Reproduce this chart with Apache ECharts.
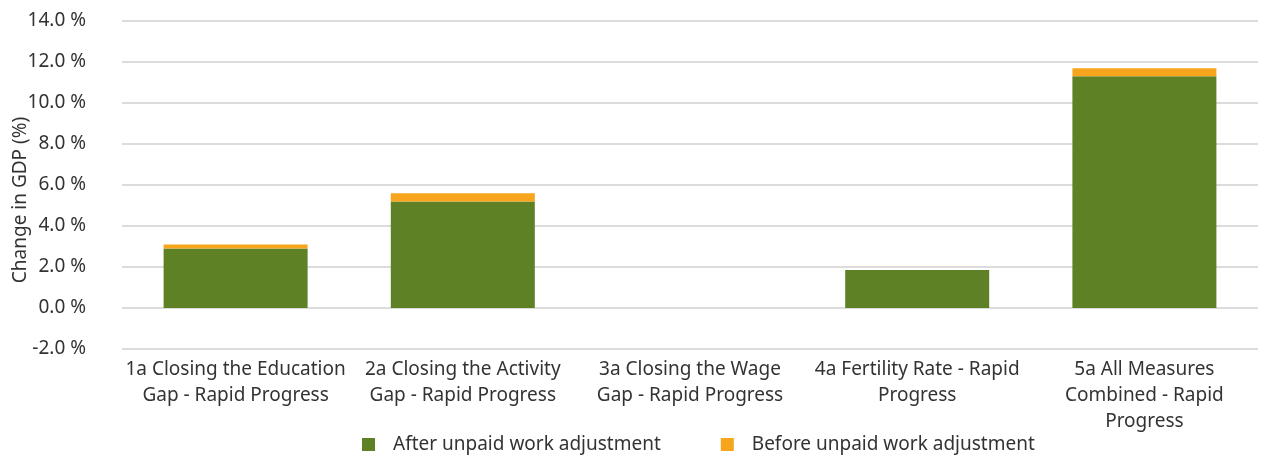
<!DOCTYPE html>
<html>
<head>
<meta charset="utf-8">
<script src="https://cdn.jsdelivr.net/npm/echarts@6/dist/echarts.min.js"></script>
<style>
  html, body { margin: 0; padding: 0; background: #fff; }
  #chart { width: 1270px; height: 455px; }
</style>
</head>
<body>
<div id="chart"></div>
<script>
// categories and values (% change in GDP)
const categories = [
  '1a Closing the Education\nGap - Rapid Progress',
  '2a Closing the Activity\nGap - Rapid Progress',
  '3a Closing the Wage\nGap - Rapid Progress',
  '4a Fertility Rate - Rapid\nProgress',
  '5a All Measures\nCombined - Rapid\nProgress'
];
const afterAdjustment = [2.9, 5.2, 0, 1.85, 11.3];
// extra on top, so the stack reaches the "before" value
const beforeExtra = [0.2, 0.4, 0, 0, 0.4];
const yTicks = { min: -2, max: 14, interval: 2 };

const font = 'Noto Sans';
const textColor = '#333333';
const fontSize = 19;

let myChart = echarts.init(document.getElementById('chart'));
myChart.setOption({
  animation: false,
  textStyle: { fontFamily: font },
  grid: {
    left: 122,
    right: 12,
    top: 21,
    bottom: 106,
    outerBoundsMode: 'none'
  },
  legend: {
    top: 430,
    left: 357,
    itemWidth: 13,
    itemHeight: 13,
    itemGap: 60,
    icon: 'rect',
    textStyle: { fontFamily: font, fontSize: fontSize, color: textColor, padding: [0, 0, 0, 13] },
    data: ['After unpaid work adjustment', 'Before unpaid work adjustment']
  },
  xAxis: {
    type: 'category',
    data: categories,
    axisLine: { show: false, onZero: false },
    axisTick: { show: false },
    axisLabel: {
      interval: 0,
      margin: 8,
      fontSize: fontSize,
      lineHeight: 26,
      color: textColor,
      verticalAlign: 'top'
    }
  },
  yAxis: {
    type: 'value',
    min: yTicks.min,
    max: yTicks.max,
    interval: yTicks.interval,
    name: 'Change in GDP (%)',
    nameLocation: 'middle',
    nameGap: 92,
    nameMoveOverlap: false,
    nameTextStyle: { fontSize: fontSize, color: textColor, padding: [0, 30, 0, 0] },
    axisLine: { show: false },
    axisTick: { show: false },
    axisLabel: {
      fontSize: fontSize,
      color: textColor,
      margin: 36,
      formatter: v => v.toFixed(1) + ' %'
    },
    splitLine: { lineStyle: { color: '#d0d0d0', width: 1.5 } }
  },
  series: [
    {
      name: 'After unpaid work adjustment',
      type: 'bar',
      stack: 'gdp',
      barWidth: 144,
      itemStyle: { color: '#5e8126' },
      data: afterAdjustment
    },
    {
      name: 'Before unpaid work adjustment',
      type: 'bar',
      stack: 'gdp',
      barWidth: 144,
      itemStyle: { color: '#f8a51e' },
      data: beforeExtra
    }
  ]
});
window.onresize = function () {
  myChart.resize();
};
</script>
</body>
</html>
